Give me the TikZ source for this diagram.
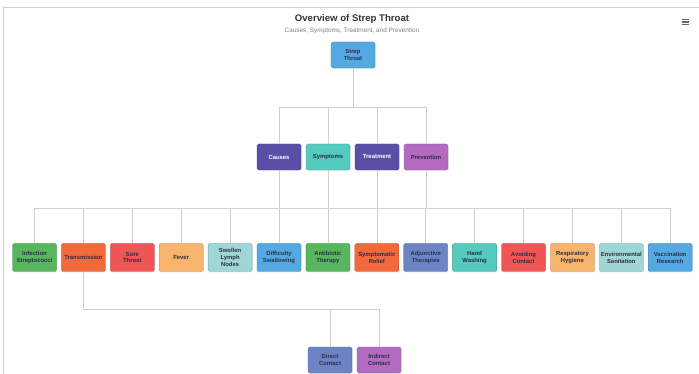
\documentclass[tikz,border=0pt]{standalone}
\usepackage{fontspec}
\setmainfont{Liberation Sans}
\usepackage{xcolor}
\usetikzlibrary{shadows}

\definecolor{cSky}{HTML}{55A9E2}
\definecolor{cIndigo}{HTML}{5A4FA6}
\definecolor{cTeal}{HTML}{55CABE}
\definecolor{cPurple}{HTML}{B36BC2}
\definecolor{cGreen}{HTML}{58B75E}
\definecolor{cOrange}{HTML}{F2693B}
\definecolor{cRed}{HTML}{EE5656}
\definecolor{cPeach}{HTML}{F8B36D}
\definecolor{cAqua}{HTML}{9FD6D6}
\definecolor{cSlate}{HTML}{6C84C4}
\definecolor{cLine}{HTML}{CFCFCF}
\definecolor{cInk}{HTML}{2B2F45}

\begin{document}
\begin{tikzpicture}[x=1pt,y=-1pt,
    box/.style={draw=#1!75!black,fill=#1,rounded corners=1.5pt,line width=0.3pt,
        minimum width=44pt,minimum height=26pt,inner sep=1pt,align=center,
        text=cInk,font=\bfseries\fontsize{5.9}{6.8}\selectfont,
        drop shadow={opacity=0.15,shadow xshift=0.6pt,shadow yshift=-0.8pt}},
    edge/.style={draw=cLine,line width=0.6pt}]
    \useasboundingbox (0,0) rectangle (699,374);
    % frame
    \draw[cLine,line width=0.8pt] (3,374) -- (3,7) -- (699,7);
    % menu icon
    \foreach \y in {19.5,22,24.5} { \draw[black!60,line width=1.2pt] (682,\y) -- (689,\y); }
    % title
    \node[font=\bfseries\fontsize{9.6}{11}\selectfont,text=black!80] (title) at (352,19) {Overview of Strep Throat};
    \node[font=\fontsize{6.4}{7.5}\selectfont,text=black!50] (subtitle) at (352,31) {Causes, Symptoms, Treatment, and Prevention};
    % root and first level
    \node[box=cSky] (root) at (353,55) {Strep\\Throat};
    \node[box=cIndigo,text=white] (causes) at (279,157) {Causes};
    \node[box=cTeal] (symp) at (328,157) {Symptoms};
    \node[box=cIndigo,text=white] (treat) at (377,157) {Treatment};
    \node[box=cPurple] (prev) at (426,157) {Prevention};
    % second level
    \foreach \i/\n/\c/\t in {0/inf/cGreen/Infection\\Streptococci, 1/trans/cOrange/Transmission,
        2/sore/cRed/Sore\\Throat, 3/fever/cPeach/Fever, 4/lymph/cAqua/Swollen\\Lymph\\Nodes,
        5/swal/cSky/Difficulty\\Swallowing, 6/anti/cGreen/Antibiotic\\Therapy,
        7/relief/cOrange/Symptomatic\\Relief, 8/adj/cSlate/Adjunctive\\Therapies,
        9/hand/cTeal/Hand\\Washing, 10/avoid/cRed/Avoiding\\Contact,
        11/resp/cPeach/Respiratory\\Hygiene, 12/env/cAqua/Environmental\\Sanitation,
        13/vacc/cSky/Vaccination\\Research} {
        \node[box=\c,minimum height=28pt] (\n) at (34.5+48.9*\i,257.5) {\t};
    }
    % third level
    \node[box=cSlate] (direct) at (330,360) {Direct\\Contact};
    \node[box=cPurple] (indirect) at (379,360) {Indirect\\Contact};
    % connectors
    \coordinate (busA) at (0,107);
    \coordinate (busB) at (0,208);
    \coordinate (busC) at (0,309);
    \foreach \k in {causes,symp,treat,prev} {
        \draw[edge] (root.south) -- (root.south |- busA) -| (\k.north);
    }
    \foreach \p/\k in {causes/inf,causes/trans,symp/sore,symp/fever,symp/lymph,symp/swal,
        treat/anti,treat/relief,treat/adj,prev/hand,prev/avoid,prev/resp,prev/env,prev/vacc} {
        \draw[edge] (\p.south) -- (\p.south |- busB) -| (\k.north);
    }
    \foreach \k in {direct,indirect} {
        \draw[edge] (trans.south) -- (trans.south |- busC) -| (\k.north);
    }
\end{tikzpicture}
\end{document}
